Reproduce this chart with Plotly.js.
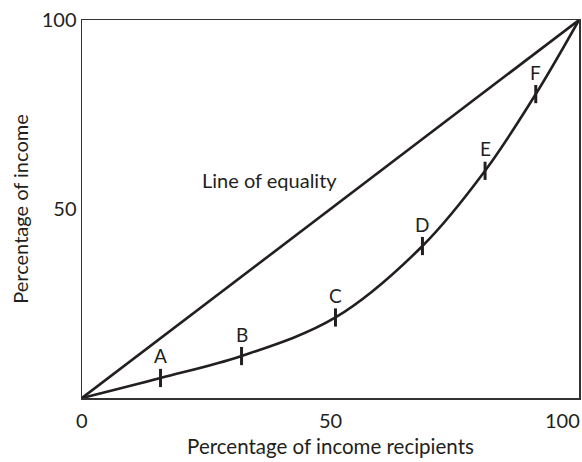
<!DOCTYPE html>
<html><head><meta charset="utf-8">
<script src="https://cdn.plot.ly/plotly-3.0.1.min.js"></script>
<style>html,body{margin:0;padding:0;background:#fff}</style>
</head><body><div id="chart" style="width:582px;height:462px"></div>
<script>
// Data
const equalityX = [0, 100];
const equalityY = [0, 100];
const curveX = [0, 15.8, 32.1, 51.0, 68.5, 81.1, 91.3, 100];
const curveY = [0, 5.3, 11.1, 21.3, 40.2, 60.1, 80.4, 100];
const pointLabels = ['A', 'B', 'C', 'D', 'E', 'F'];
const pointX = [15.8, 32.1, 51.0, 68.5, 81.1, 91.3];
const pointY = [5.3, 11.1, 21.3, 40.2, 60.1, 80.4];
const xTickVals = [0, 50, 100];
const xTickText = ['0', '50', '100'];
const yTickVals = [50, 100];
const yTickText = ['50', '100'];

const FONT = 'Lato, "Open Sans", sans-serif';
const INK = '#231f20';

const traces = [
  {x: equalityX, y: equalityY, mode: 'lines', line: {color: INK, width: 2.6}, hoverinfo: 'skip'},
  {x: curveX, y: curveY, mode: 'lines', line: {color: INK, width: 2.6, shape: 'spline', smoothing: 1}, hoverinfo: 'skip'},
  {x: pointX, y: pointY, mode: 'markers', marker: {symbol: 'line-ns', size: 13, line: {color: INK, width: 3}}, hoverinfo: 'skip'}
];

const annotations = pointLabels.map((t, i) => ({
  x: pointX[i], y: pointY[i], xref: 'x', yref: 'y', text: t, showarrow: false,
  yshift: 22, font: {family: FONT, size: 19, color: INK}
}));
annotations.push({x: 37.8, y: 57.7, xref: 'x', yref: 'y', text: 'Line of equality', showarrow: false,
  font: {family: FONT, size: 20, color: INK}});
// x tick labels (last one right-aligned to the axis end)
xTickVals.forEach((v, i) => {
  annotations.push({x: v, y: 0, xref: 'x', yref: 'y', text: xTickText[i], showarrow: false,
    xanchor: i === xTickVals.length - 1 ? 'right' : 'center', yanchor: 'top', yshift: -8,
    xshift: i === xTickVals.length - 1 ? 3 : 0,
    font: {family: FONT, size: 20, color: INK}});
});

const layout = {
  width: 582, height: 462,
  margin: {l: 82, r: 3, t: 20, b: 64},
  paper_bgcolor: '#fff', plot_bgcolor: '#fff',
  showlegend: false,
  xaxis: {range: [0, 100], showgrid: false, zeroline: false, showline: true, mirror: true,
    linecolor: '#333', linewidth: 1.5, ticks: '', showticklabels: false, fixedrange: true,
    title: {text: 'Percentage of income recipients', font: {family: FONT, size: 20.5, color: INK}, standoff: 41}},
  yaxis: {range: [0, 100], showgrid: false, zeroline: false, showline: true, mirror: true,
    linecolor: '#333', linewidth: 1.5, ticks: '', tickvals: yTickVals, ticktext: yTickText,
    tickfont: {family: FONT, size: 20, color: INK}, fixedrange: true,
    title: {text: 'Percentage of income', font: {family: FONT, size: 20, color: INK}, standoff: 7}},
  annotations: annotations
};

Plotly.newPlot('chart', traces, layout, {displayModeBar: false, staticPlot: true});
</script></body></html>
